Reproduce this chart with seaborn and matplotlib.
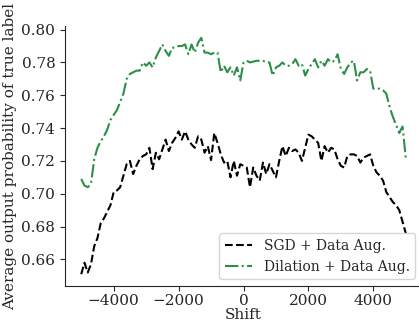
import numpy as np
import pandas as pd
import matplotlib
matplotlib.use("Agg")
import matplotlib.pyplot as plt
import seaborn as sns

shift = list(range(-5000, 5001, 100))

sgd_aug = [
    0.651, 0.658, 0.652, 0.657, 0.668, 0.673, 0.682, 0.685, 0.689, 0.693,
    0.701, 0.702, 0.704, 0.711, 0.718, 0.720, 0.712, 0.717, 0.721, 0.723,
    0.724, 0.728, 0.715, 0.725, 0.721, 0.727, 0.733, 0.726, 0.731, 0.734,
    0.738, 0.733, 0.738, 0.733, 0.730, 0.728, 0.735, 0.733, 0.725, 0.729,
    0.7205, 0.737, 0.731, 0.724, 0.719, 0.720, 0.710, 0.720, 0.711, 0.718,
    0.717, 0.716, 0.704, 0.716, 0.711, 0.708, 0.719, 0.712, 0.718, 0.714,
    0.710, 0.720, 0.729, 0.723, 0.728, 0.726, 0.727, 0.725, 0.720, 0.728,
    0.736, 0.735, 0.733, 0.731, 0.720, 0.729, 0.725, 0.728, 0.727, 0.721,
    0.717, 0.716, 0.723, 0.724, 0.724, 0.723, 0.719, 0.722, 0.723, 0.724,
    0.717, 0.713, 0.711, 0.708, 0.701, 0.698, 0.695, 0.693, 0.690, 0.683,
    0.676,
]

dilation_aug = [
    0.709, 0.705, 0.704, 0.706, 0.721, 0.728, 0.732, 0.735, 0.739, 0.745,
    0.748, 0.751, 0.756, 0.761, 0.770, 0.773, 0.774, 0.775, 0.775, 0.780,
    0.778, 0.780, 0.777, 0.783, 0.787, 0.791, 0.787, 0.784, 0.789, 0.789,
    0.790, 0.790, 0.791, 0.785, 0.791, 0.786, 0.792, 0.795, 0.786, 0.786,
    0.785, 0.786, 0.786, 0.774, 0.778, 0.774, 0.777, 0.772, 0.777, 0.769,
    0.780, 0.781, 0.780, 0.7805, 0.781, 0.781, 0.781, 0.780, 0.780, 0.772,
    0.777, 0.778, 0.780, 0.778, 0.778, 0.779, 0.782, 0.778, 0.779, 0.772,
    0.776, 0.779, 0.782, 0.777, 0.781, 0.778, 0.782, 0.780, 0.781, 0.785,
    0.776, 0.773, 0.777, 0.780, 0.781, 0.769, 0.774, 0.774, 0.776, 0.775,
    0.764, 0.764, 0.764, 0.763, 0.761, 0.753, 0.747, 0.742, 0.737, 0.741,
    0.722,
]

series_names = ["SGD + Data Aug.", "Dilation + Data Aug."]

sns.set_style("ticks")
plt.rcParams['font.family'] = ['DejaVu Serif']
plt.rcParams['font.size'] = 11

fig = plt.figure(figsize=(4.19, 3.23), dpi=100)
ax = fig.add_axes([65/419, 1-286/323, (422-65)/419, (286-26)/323])

df1 = pd.DataFrame({"Shift": shift, "val": sgd_aug})
df2 = pd.DataFrame({"Shift": shift, "val": dilation_aug})
sns.lineplot(data=df1, x="Shift", y="val", ax=ax, color="black", linestyle="--",
             linewidth=1.5, label=series_names[0])
sns.lineplot(data=df2, x="Shift", y="val", ax=ax, color="#2b8f47", linestyle="-.",
             linewidth=1.5, label=series_names[1])

ax.set_xlabel("Shift", fontsize=11, labelpad=0)
ax.set_ylabel("Average output probability of true label", fontsize=11, labelpad=3)
ax.set_xticks([-4000, -2000, 0, 2000, 4000])
yt = [0.66, 0.68, 0.70, 0.72, 0.74, 0.76, 0.78, 0.80]
ax.set_yticks(yt)
ax.set_yticklabels([f"{v:.2f}" for v in yt])
ax.tick_params(labelsize=11)
ax.tick_params(axis="x", pad=2)
ax.legend(loc="lower right", fontsize=10)
sns.despine(ax=ax)

fig.savefig("out.png", dpi=100)
